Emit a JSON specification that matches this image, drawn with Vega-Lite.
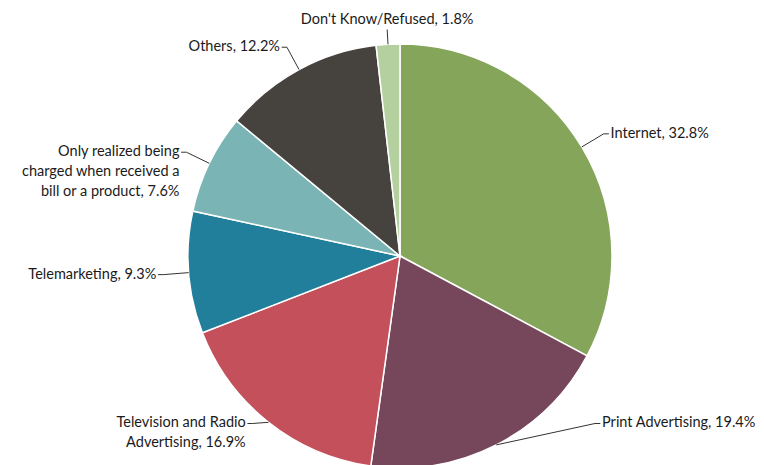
{
  "$schema": "https://vega.github.io/schema/vega-lite/v6.json",
  "width": 764,
  "height": 465,
  "autosize": {"type": "none"},
  "padding": 0,
  "background": "white",
  "config": {"view": {"stroke": null}, "font": "Lato"},
  "data": {
    "values": [
      {"order": 1, "category": "Internet", "value": 32.8, "label": "Internet, 32.8%"},
      {"order": 2, "category": "Print Advertising", "value": 19.4, "label": "Print Advertising, 19.4%"},
      {"order": 3, "category": "Television and Radio Advertising", "value": 16.9, "label": "Television and Radio\nAdvertising, 16.9%"},
      {"order": 4, "category": "Telemarketing", "value": 9.3, "label": "Telemarketing, 9.3%"},
      {"order": 5, "category": "Only realized being charged when received a bill or a product", "value": 7.6, "label": "Only realized being\ncharged when received a\nbill or a product, 7.6%"},
      {"order": 6, "category": "Others", "value": 12.2, "label": "Others, 12.2%"},
      {"order": 7, "category": "Don't Know/Refused", "value": 1.8, "label": "Don't Know/Refused, 1.8%"}
    ]
  },
  "transform": [
    {"joinaggregate": [{"op": "sum", "field": "value", "as": "total"}]},
    {"window": [{"op": "sum", "field": "value", "as": "cum"}], "sort": [{"field": "order"}], "frame": [null, 0]},
    {"calculate": "2*PI*(datum.cum - datum.value/2)/datum.total", "as": "ang"},
    {"calculate": "sin(datum.ang)", "as": "x0"},
    {"calculate": "cos(datum.ang)", "as": "y0"},
    {"calculate": "abs(datum.x0) < 0.2 ? 'center' : (datum.x0 > 0 ? 'left' : 'right')", "as": "side"},
    {"calculate": "(datum.side == 'center' ? 1.07 : 1.12) * datum.y0", "as": "yr"},
    {"calculate": "max(datum.yr, -0.79)", "as": "y1"},
    {"calculate": "(datum.side == 'center' ? 1.07 : 1.12) * datum.x0", "as": "xr"},
    {"calculate": "(datum.side == 'left' && datum.yr < -0.79) ? max(datum.xr, 0.92) : datum.xr", "as": "x1"},
    {"calculate": "datum.side == 'left' ? datum.x1 + 0.025 : (datum.side == 'right' ? datum.x1 - 0.025 : datum.x1)", "as": "x2"},
    {"calculate": "datum.side == 'left' ? datum.x2 + 0.008 : (datum.side == 'right' ? datum.x2 - 0.008 : datum.x2)", "as": "tx"},
    {"calculate": "datum.side == 'center' ? datum.y1 + 0.01 : datum.y1", "as": "ty"}
  ],
  "layer": [
    {
      "mark": {"type": "arc", "outerRadius": 212, "stroke": "white", "strokeWidth": 1.5},
      "encoding": {
        "x": {"datum": 0, "type": "quantitative", "scale": {"domain": [-1.8868, 1.717], "nice": false, "zero": false}, "axis": null},
        "y": {"datum": 0, "type": "quantitative", "scale": {"domain": [-0.9858, 1.2075], "nice": false, "zero": false}, "axis": null},
        "theta": {"field": "value", "type": "quantitative", "stack": true},
        "order": {"field": "order", "type": "quantitative"},
        "color": {
          "field": "category",
          "type": "nominal",
          "sort": {"field": "order"},
          "scale": {
            "domain": ["Internet", "Print Advertising", "Television and Radio Advertising", "Telemarketing", "Only realized being charged when received a bill or a product", "Others", "Don't Know/Refused"],
            "range": ["#84A55A", "#76475A", "#C4505B", "#217F9B", "#7AB4B4", "#46433F", "#B4D09F"]
          },
          "legend": null
        }
      }
    },
    {
      "mark": {"type": "rule", "color": "#333333", "strokeWidth": 1},
      "encoding": {
        "x": {"field": "x0", "type": "quantitative", "scale": {"domain": [-1.8868, 1.717], "nice": false, "zero": false}, "axis": null},
        "y": {"field": "y0", "type": "quantitative", "scale": {"domain": [-0.9858, 1.2075], "nice": false, "zero": false}, "axis": null},
        "x2": {"field": "x1"},
        "y2": {"field": "y1"}
      }
    },
    {
      "mark": {"type": "rule", "color": "#333333", "strokeWidth": 1},
      "encoding": {
        "x": {"field": "x1", "type": "quantitative", "scale": {"domain": [-1.8868, 1.717], "nice": false, "zero": false}, "axis": null},
        "y": {"field": "y1", "type": "quantitative", "scale": {"domain": [-0.9858, 1.2075], "nice": false, "zero": false}, "axis": null},
        "x2": {"field": "x2"},
        "y2": {"field": "y1"}
      }
    },
    {
      "mark": {
        "type": "text",
        "fontSize": 14.5,
        "color": "#1a1a1a",
        "lineBreak": "\n",
        "lineHeight": 20,
        "align": {"expr": "datum.side"},
        "baseline": {"expr": "datum.side == 'center' ? 'bottom' : 'middle'"}
      },
      "encoding": {
        "x": {"field": "tx", "type": "quantitative", "scale": {"domain": [-1.8868, 1.717], "nice": false, "zero": false}, "axis": null},
        "y": {"field": "ty", "type": "quantitative", "scale": {"domain": [-0.9858, 1.2075], "nice": false, "zero": false}, "axis": null},
        "text": {"field": "label"}
      }
    }
  ]
}
